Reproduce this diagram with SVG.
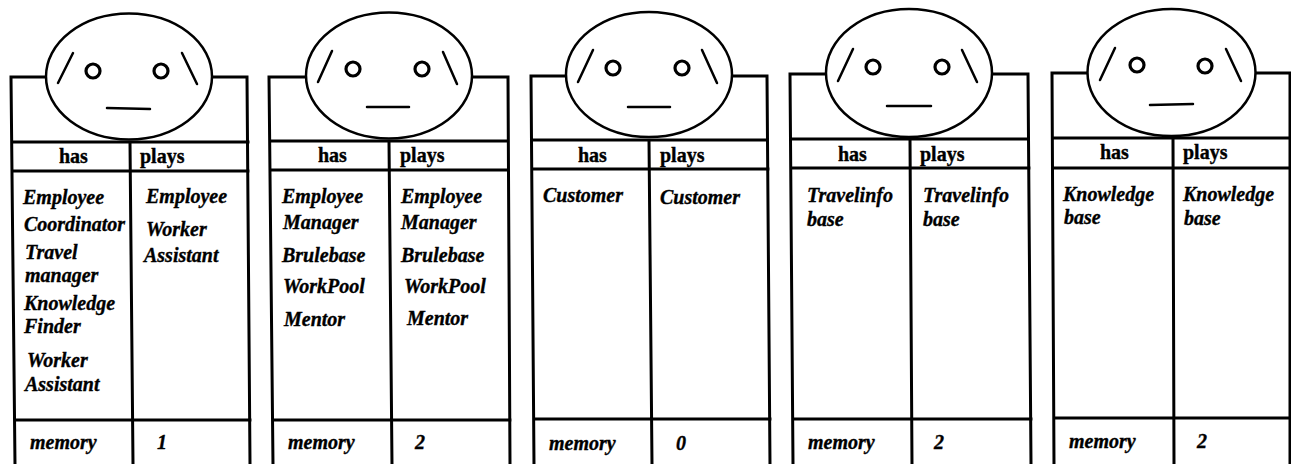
<svg xmlns="http://www.w3.org/2000/svg" width="1291" height="464" viewBox="0 0 1291 464">
<style>
.f{fill:none;stroke:#000;stroke-width:3;stroke-linecap:square}
.h{fill:#fff;stroke:#000;stroke-width:2.5}
.e{fill:#fff;stroke:#000;stroke-width:3.2}
.b{fill:none;stroke:#000;stroke-width:2.5;stroke-linecap:round}
text{font-family:"Liberation Serif","Times New Roman",serif;font-size:20px;fill:#000;font-weight:bold;stroke:#000;stroke-width:.35}
.i{font-style:italic}
</style>
<rect width="1291" height="464" fill="#fff"/>
<g id="agent-employee-coordinator">
<path class="f" d="M11 77H247L250 464M11 77L15 464M13 142H248M14 171H248M130 142L133 464M15 420H250"/>
<ellipse class="h" cx="129" cy="76.5" rx="83" ry="63"/>
<path class="b" d="M73 53L58 83M182 53L197 84M107 108L150 109"/>
<circle class="e" cx="93" cy="71" r="7"/><circle class="e" cx="161" cy="71" r="7"/>
<text x="59" y="163">has</text><text x="140" y="163">plays</text>
<text class="i" x="23" y="204">Employee</text><text class="i" x="24" y="231">Coordinator</text><text class="i" x="25" y="259">Travel</text><text class="i" x="25" y="282">manager</text><text class="i" x="24" y="310">Knowledge</text><text class="i" x="24" y="333">Finder</text><text class="i" x="27" y="367">Worker</text><text class="i" x="25" y="391">Assistant</text>
<text class="i" x="146" y="203">Employee</text><text class="i" x="146" y="236">Worker</text><text class="i" x="144" y="262">Assistant</text>
<text class="i" x="30" y="449">memory</text><text class="i" x="157" y="449">1</text>
</g>
<g id="agent-employee-manager">
<path class="f" d="M269 77H508L510 464M269 77L273 464M271 141H508M272 170H508M389 141L392 464M273 420H510"/>
<ellipse class="h" cx="389" cy="75.5" rx="83" ry="63"/>
<path class="b" d="M332 51L318 82M443 52L457 84M367 107H409"/>
<circle class="e" cx="353" cy="69" r="7"/><circle class="e" cx="422" cy="69" r="7"/>
<text x="318" y="162">has</text><text x="400" y="162">plays</text>
<text class="i" x="282" y="203">Employee</text><text class="i" x="283" y="229">Manager</text><text class="i" x="282" y="262">Brulebase</text><text class="i" x="283" y="293">WorkPool</text><text class="i" x="284" y="326">Mentor</text>
<text class="i" x="401" y="203">Employee</text><text class="i" x="401" y="229">Manager</text><text class="i" x="401" y="262">Brulebase</text><text class="i" x="404" y="293">WorkPool</text><text class="i" x="407" y="325">Mentor</text>
<text class="i" x="288" y="449">memory</text><text class="i" x="415" y="449">2</text>
</g>
<g id="agent-customer">
<path class="f" d="M531 76H767L770 464M531 76L534 464M532 140H767M533 169H768M649 140L652 464M534 419H770"/>
<ellipse class="h" cx="649" cy="74.5" rx="83" ry="62.5"/>
<path class="b" d="M593 50L578 82M702 50L717 83M628 107H670"/>
<circle class="e" cx="613" cy="68" r="7"/><circle class="e" cx="682" cy="68" r="7"/>
<text x="578" y="162">has</text><text x="660" y="162">plays</text>
<text class="i" x="543" y="202">Customer</text><text class="i" x="660" y="204">Customer</text>
<text class="i" x="549" y="450">memory</text><text class="i" x="676" y="450">0</text>
</g>
<g id="agent-travelinfo-base">
<path class="f" d="M790 74H1028L1031 464M790 74L793 464M791 139H1028M792 168H1029M910 139L912 464M793 419H1031"/>
<ellipse class="h" cx="909" cy="73" rx="83" ry="64"/>
<path class="b" d="M853 49L838 81M962 50L977 82M887 106H931"/>
<circle class="e" cx="873" cy="67" r="7"/><circle class="e" cx="942" cy="67" r="7"/>
<text x="838" y="161">has</text><text x="920" y="161">plays</text>
<text class="i" x="807" y="202">Travelinfo</text><text class="i" x="807" y="226">base</text><text class="i" x="923" y="202">Travelinfo</text><text class="i" x="923" y="226">base</text>
<text class="i" x="808" y="449">memory</text><text class="i" x="934" y="449">2</text>
</g>
<g id="agent-knowledge-base">
<path class="f" d="M1052 73H1290V464M1052 73L1054 464M1053 138H1290M1053 168H1290M1173 138L1174 464M1054 418H1290"/>
<ellipse class="h" cx="1171.5" cy="72.5" rx="84" ry="63.5"/>
<path class="b" d="M1115 48L1100 80M1226 49L1241 81M1150 105L1193 104"/>
<circle class="e" cx="1137" cy="65" r="7"/><circle class="e" cx="1205" cy="66" r="7"/>
<text x="1100" y="159">has</text><text x="1183" y="159">plays</text>
<text class="i" x="1063" y="201">Knowledge</text><text class="i" x="1064" y="224">base</text><text class="i" x="1183" y="201">Knowledge</text><text class="i" x="1184" y="225">base</text>
<text class="i" x="1069" y="448">memory</text><text class="i" x="1197" y="448">2</text>
</g>
</svg>
